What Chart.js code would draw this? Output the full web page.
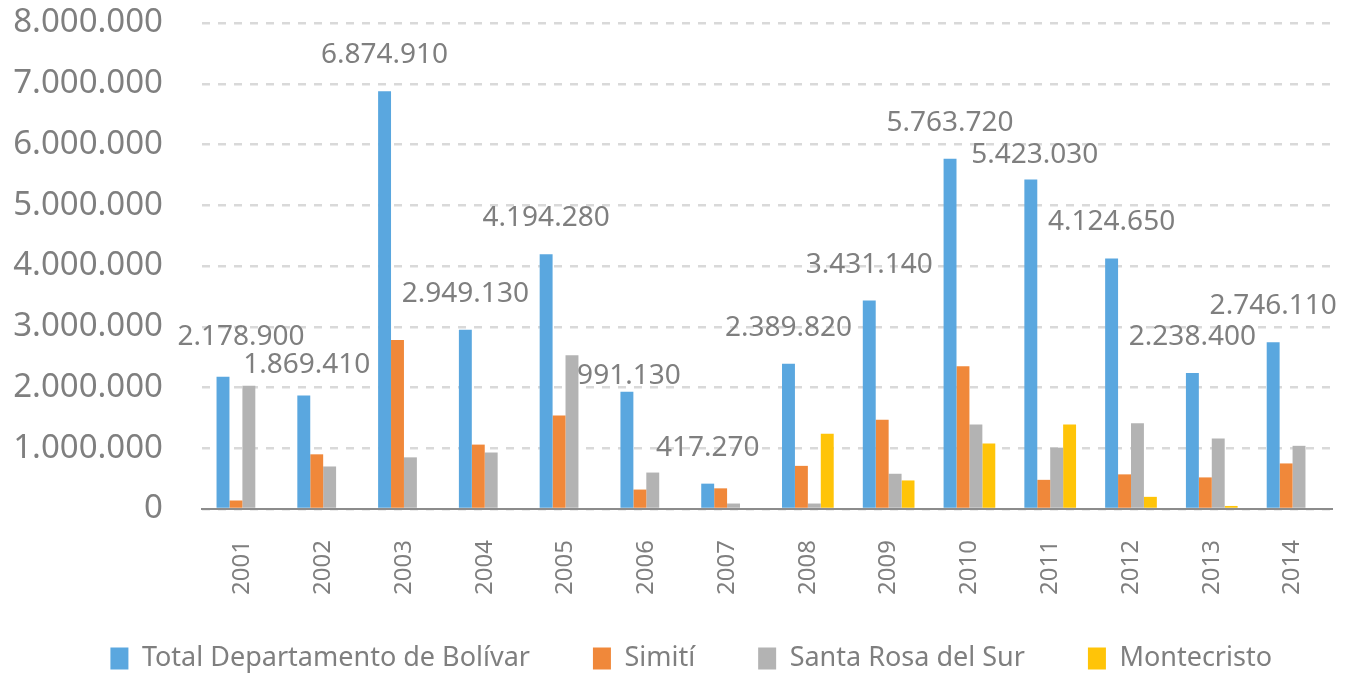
<!DOCTYPE html>
<html>
<head>
<meta charset="utf-8">
<script src="https://cdn.jsdelivr.net/npm/chart.js@4/dist/chart.umd.min.js"></script>
<style>
  html, body { margin: 0; padding: 0; background: #fff; }
  #wrap { width: 1353px; height: 674px; }
</style>
</head>
<body>
<div id="wrap"><canvas id="chart" width="1353" height="674"></canvas></div>
<script>
// categories
const years = ['2001','2002','2003','2004','2005','2006','2007','2008','2009','2010','2011','2012','2013','2014'];

// series values (the 2006 blue bar stands near 1.9M although its label says 991.130)
const totalBolivar = [2178900, 1869410, 6874910, 2949130, 4194280, 1930000, 417270, 2389820, 3431140, 5763720, 5423030, 4124650, 2238400, 2746110];
const simiti       = [140000, 900000, 2780000, 1060000, 1540000, 320000, 340000, 710000, 1470000, 2350000, 480000, 570000, 520000, 750000];
const santaRosa    = [2030000, 700000, 850000, 930000, 2530000, 600000, 90000, 90000, 580000, 1390000, 1010000, 1410000, 1160000, 1040000];
const montecristo  = [0, 0, 0, 0, 0, 0, 0, 1240000, 470000, 1080000, 1390000, 200000, 50000, 0];

// the value labels printed above the blue bars
const totalLabels = ['2.178.900', '1.869.410', '6.874.910', '2.949.130', '4.194.280', '991.130', '417.270', '2.389.820', '3.431.140', '5.763.720', '5.423.030', '4.124.650', '2.238.400', '2.746.110'];

const seriesNames = ['Total Departamento de Bolívar', 'Simití', 'Santa Rosa del Sur', 'Montecristo'];

// y tick values
const yTicks = [0, 1000000, 2000000, 3000000, 4000000, 5000000, 6000000, 7000000, 8000000];

const grey = '#7f7f7f';
const FONT = '"Noto Sans", "Open Sans", sans-serif';

function fmt(v) {
  return String(Math.round(v)).replace(/\B(?=(\d{3})+(?!\d))/g, '.');
}

// a few labels were moved by hand in the original
const labelNudge = { 0: [18, -4], 1: [3, 6], 5: [2, 20], 10: [4, 11] };

const totalLabelPlugin = {
  id: 'totalLabels',
  afterLayout(chart) {
    // year labels run a bit past the x box, don't let them get clipped
    chart.scales.x.bottom += 30;
  },
  afterDatasetsDraw(chart) {
    const ctx = chart.ctx;
    const meta = chart.getDatasetMeta(0);
    ctx.save();
    ctx.font = '28px ' + FONT;
    ctx.fillStyle = grey;
    ctx.textAlign = 'center';
    ctx.textBaseline = 'middle';
    meta.data.forEach((bar, i) => {
      const n = labelNudge[i] || [0, 0];
      ctx.fillText(totalLabels[i], bar.x + n[0], bar.y - 36 + n[1]);
    });
    ctx.restore();
  }
};

new Chart(document.getElementById('chart'), {
  type: 'bar',
  data: {
    labels: years,
    datasets: [
      { label: seriesNames[0], data: totalBolivar, backgroundColor: '#5aa7df' },
      { label: seriesNames[1], data: simiti, backgroundColor: '#f0883a' },
      { label: seriesNames[2], data: santaRosa, backgroundColor: '#b3b3b3' },
      { label: seriesNames[3], data: montecristo, backgroundColor: '#ffc408' }
    ]
  },
  options: {
    responsive: false,
    animation: false,
    datasets: { bar: { barPercentage: 1, categoryPercentage: 0.64 } },
    layout: { padding: { top: 23, right: 18, left: 0, bottom: -8 } },
    plugins: {
      tooltip: { enabled: false },
      legend: {
        position: 'bottom',
        align: 'end',
        labels: {
          color: grey,
          font: { family: FONT, size: 27 },
          boxWidth: 18,
          boxHeight: 22,
          padding: 63
        }
      }
    },
    scales: {
      x: {
        grid: { display: false, drawTicks: false },
        border: { display: true, color: '#8c8c8c', width: 2 },
        ticks: {
          color: grey,
          font: { family: FONT, size: 24 },
          minRotation: 90,
          maxRotation: 90,
          padding: 31
        },
        afterFit(s) { s.height = 73; }
      },
      y: {
        min: 0,
        max: 8000000,
        afterBuildTicks(s) { s.ticks = yTicks.map(v => ({ value: v })); },
        grid: { color: '#d9d9d9', lineWidth: 2.5, drawTicks: false },
        border: { display: false, dash: [8, 8] },
        ticks: {
          color: grey,
          font: { family: FONT, size: 33 },
          padding: 39,
          callback: v => fmt(v)
        },
        afterFit(s) { s.width = 202; s.paddingTop = 0; s.paddingBottom = 0; }
      }
    }
  },
  plugins: [totalLabelPlugin]
});
</script>
</body>
</html>
